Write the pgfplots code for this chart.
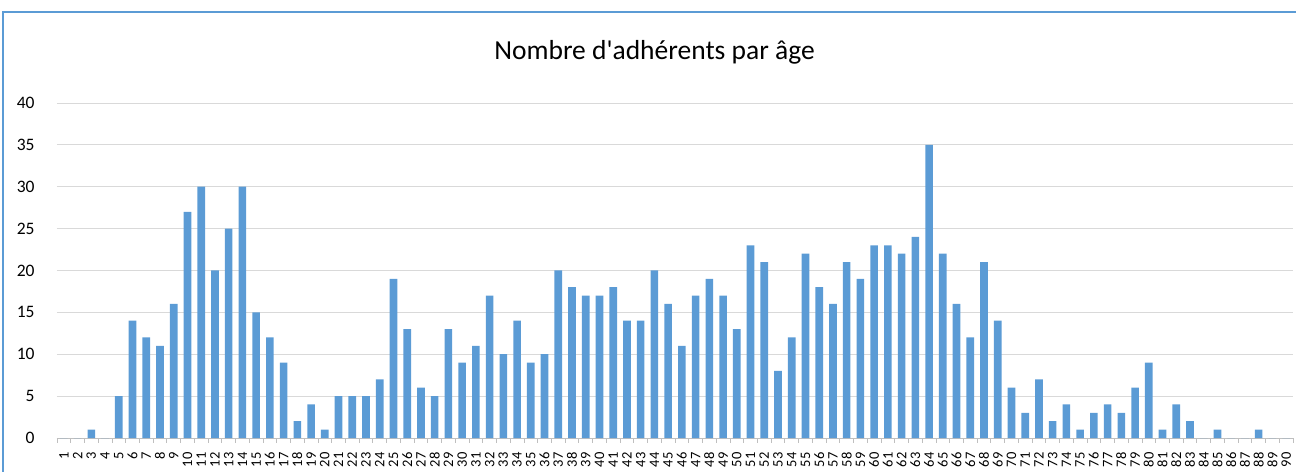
\documentclass[border=0pt]{standalone}
\usepackage{pgfplots}
\pgfplotsset{compat=1.18}
\usepackage{fontspec}
\setmainfont{Carlito}[Ligatures=TeXOff]
\definecolor{barblue}{HTML}{5B9BD5}
\definecolor{gridgray}{HTML}{D9D9D9}
\definecolor{axisgray}{HTML}{BFBFBF}
\definecolor{framblue}{HTML}{5B9BD5}
\begin{document}
\begin{tikzpicture}
\path[use as bounding box] (-57bp,-34bp) rectangle (1239bp,438bp);
\begin{axis}[
  at={(0,0)}, anchor=south west,
  scale only axis, width=1236bp, height=335bp,
  xmin=0.5, xmax=90.5, ymin=0, ymax=40,
  ybar, bar width=0.556,
  axis x line*=bottom, axis y line*=left,
  y axis line style={draw=none},
  x axis line style={draw=axisgray, line width=0.8bp},
  ytick={0,5,...,40},
  ytick style={draw=none},
  ymajorgrids, major grid style={draw=gridgray, line width=0.8bp},
  xtick={1,...,90},
  major x tick style={draw=none},
  minor xtick={0.5,1.5,...,90.5},
  minor x tick style={draw=axisgray, line width=0.8bp},
  tick align=outside, minor tick length=5bp,
  /pgf/number format/assume math mode=true,
  xticklabel style={yshift=-10bp, rotate=90, anchor=east, font=\fontsize{14.5bp}{15bp}\selectfont, inner sep=0pt},
  yticklabel style={font=\fontsize{17.5bp}{18bp}\selectfont, inner sep=0pt, xshift=-18bp, anchor=east},
  enlargelimits=false, clip=false,
]
\addplot[fill=barblue, draw=none] coordinates {
(1,0) (2,0) (3,1) (4,0) (5,5) (6,14) (7,12) (8,11) (9,16) (10,27)
(11,30) (12,20) (13,25) (14,30) (15,15) (16,12) (17,9) (18,2) (19,4) (20,1)
(21,5) (22,5) (23,5) (24,7) (25,19) (26,13) (27,6) (28,5) (29,13) (30,9)
(31,11) (32,17) (33,10) (34,14) (35,9) (36,10) (37,20) (38,18) (39,17) (40,17)
(41,18) (42,14) (43,14) (44,20) (45,16) (46,11) (47,17) (48,19) (49,17) (50,13)
(51,23) (52,21) (53,8) (54,12) (55,22) (56,18) (57,16) (58,21) (59,19) (60,23)
(61,23) (62,22) (63,24) (64,35) (65,22) (66,16) (67,12) (68,21) (69,14) (70,6)
(71,3) (72,7) (73,2) (74,4) (75,1) (76,3) (77,4) (78,3) (79,6) (80,9)
(81,1) (82,4) (83,2) (84,0) (85,1) (86,0) (87,0) (88,1) (89,0) (90,0)
};
\end{axis}
\node[anchor=base, font=\fontsize{27.5bp}{28bp}\selectfont, inner sep=0pt] at (597.5bp,378bp) {Nombre d'adhérents par âge};
\draw[framblue, line width=1.6bp] (-54bp,-60bp) -- (-54bp,426bp) -- (1260bp,426bp);
\end{tikzpicture}
\end{document}
